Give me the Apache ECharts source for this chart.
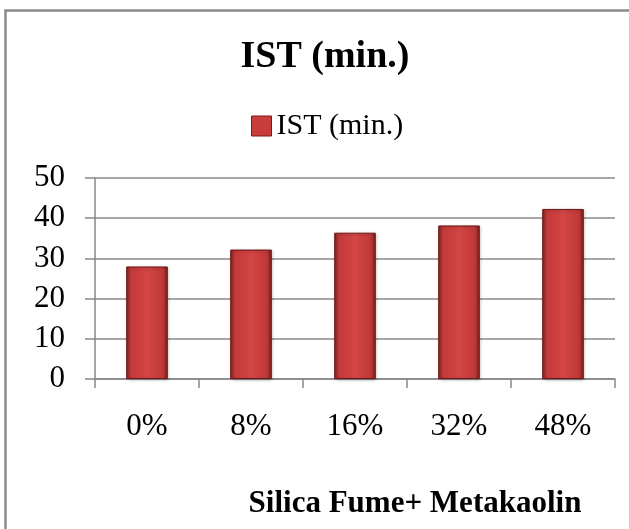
<!DOCTYPE html>
<html>
<head>
<meta charset="utf-8">
<script src="https://cdn.jsdelivr.net/npm/echarts@6/dist/echarts.min.js"></script>
<style>
html,body{margin:0;padding:0;background:#fff;}
#c{width:629px;height:529px;}
</style>
</head>
<body>
<div id="c"></div>
<script>
const categories = ['0%', '8%', '16%', '32%', '48%'];
const istValues = [28, 32.2, 36.4, 38.2, 42.3];
const yTicks = [0, 10, 20, 30, 40, 50];
const chartTitle = 'IST (min.)';
const seriesName = 'IST (min.)';
const xTitle = 'Silica Fume+ Metakaolin';

const font = '"Liberation Serif", "Times New Roman", serif';
const barFill = {
  type: 'linear', x: 0, y: 0, x2: 1, y2: 0,
  colorStops: [
    {offset: 0, color: '#8a2222'},
    {offset: 0.12, color: '#c23a3a'},
    {offset: 0.5, color: '#d44545'},
    {offset: 0.88, color: '#bf3939'},
    {offset: 1, color: '#7a1b1b'}
  ]
};

const chart = echarts.init(document.getElementById('c'));
chart.setOption({
  animation: false,
  title: {
    text: chartTitle,
    left: 320, top: 33, textAlign: 'center',
    textStyle: {fontFamily: font, fontWeight: 'bold', fontSize: 38, color: '#000'}
  },
  legend: {
    data: [seriesName],
    left: 251, top: 111, padding: 0,
    icon: 'rect', itemWidth: 20, itemHeight: 20,
    textStyle: {fontFamily: font, fontSize: 30, color: '#000'},
    itemStyle: {color: '#c83c3c', borderColor: '#7a1b1b', borderWidth: 1}
  },
  grid: {left: 95, right: 14, top: 178, bottom: 150, containLabel: false},
  xAxis: {
    type: 'category', data: categories,
    axisLine: {lineStyle: {color: '#888', width: 1.5}},
    axisTick: {show: true, length: 9, alignWithLabel: false, lineStyle: {color: '#888', width: 1.5}},
    axisLabel: {fontFamily: font, fontSize: 31, color: '#000', margin: 32}
  },
  yAxis: {
    type: 'value', min: yTicks[0], max: yTicks[yTicks.length - 1], interval: 10,
    axisLine: {show: true, lineStyle: {color: '#888', width: 1.5}},
    axisTick: {show: true, length: 10, lineStyle: {color: '#888', width: 1.5}},
    splitLine: {lineStyle: {color: '#888', width: 1.5}},
    axisLabel: {fontFamily: font, fontSize: 31, color: '#000', margin: 30}
  },
  series: [{
    name: seriesName, type: 'bar', data: istValues, barWidth: '40%',
    itemStyle: {color: barFill, borderColor: '#6e1717', borderWidth: 1,
      shadowColor: 'rgba(0,0,0,0.25)', shadowBlur: 3, shadowOffsetX: 1, shadowOffsetY: 1}
  }],
  graphic: [
    {type: 'rect', shape: {x: 5.5, y: 10.5, width: 700, height: 600},
     style: {fill: 'none', stroke: '#8a8a8a', lineWidth: 2.5}, silent: true},
    {type: 'text', x: 415, y: 504,
     style: {text: xTitle, fontFamily: font, fontWeight: 'bold', fontSize: 31, fill: '#000',
       textAlign: 'center', textVerticalAlign: 'middle'}}
  ]
});
</script>
</body>
</html>
